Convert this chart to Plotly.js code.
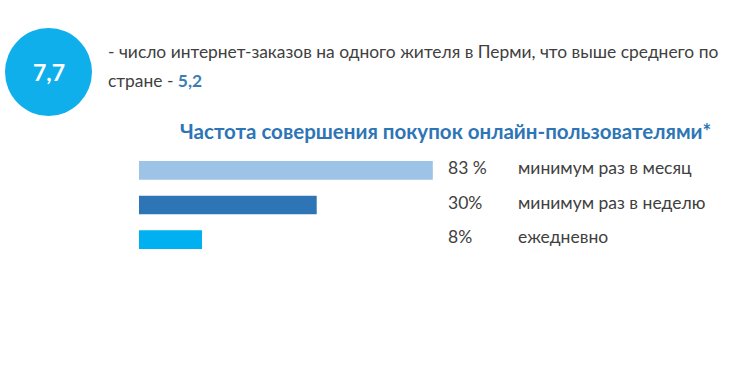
<!DOCTYPE html>
<html>
<head>
<meta charset="utf-8">
<script src="https://cdn.plot.ly/plotly-3.0.1.min.js"></script>
<style>
  html, body { margin: 0; padding: 0; background: #ffffff; }
  #chart { width: 750px; height: 375px; }
</style>
</head>
<body>
<div id="chart"></div>
<script>
// ---- data ----
var categories = ["минимум раз в месяц", "минимум раз в неделю", "ежедневно"];
var shareLabels = ["83 %", "30%", "8%"];
// bar lengths as drawn in the picture (not proportional to labels), on a 0-100 scale
var barLengths = [83, 50.2, 17.8];
var barColors = ["#9dc3e6", "#2e75b6", "#00b0f0"];
var bigValue = "7,7";
var countryValue = "5,2";
var introText = "- число интернет-заказов на одного жителя в Перми, что выше среднего по";
var introText2 = "стране - ";
var chartTitle = "Частота совершения покупок онлайн-пользователями*";

// ---- layout helpers (pixel -> paper) ----
var W = 750, H = 375;
var L = 139, PW = 354, T = 153, PH = 104;
function px(x) { return (x - L) / PW; }
function py(y) { return (T + PH - y) / PH; }

var FONT = "Lato, 'Open Sans', sans-serif";
var textColor = "#404040";

var trace = {
  type: "bar",
  orientation: "h",
  x: barLengths,
  y: categories,
  marker: { color: barColors },
  hoverinfo: "skip"
};

var annotations = [];
categories.forEach(function (c, i) {
  annotations.push({
    xref: "paper", yref: "y", x: px(446), y: c, yshift: 3,
    xanchor: "left", yanchor: "middle", showarrow: false,
    text: shareLabels[i], font: { family: FONT, size: 17.5, color: textColor }
  });
  annotations.push({
    xref: "paper", yref: "y", x: px(516), y: c, yshift: 3,
    xanchor: "left", yanchor: "middle", showarrow: false,
    text: c, font: { family: FONT, size: 17.5, color: textColor }
  });
});

annotations.push({
  xref: "paper", yref: "paper", x: px(48.5), y: py(72),
  xanchor: "center", yanchor: "middle", showarrow: false,
  text: "<b>" + bigValue + "</b>", font: { family: FONT, size: 23, color: "#ffffff" }
});
annotations.push({
  xref: "paper", yref: "paper", x: px(106), y: py(52),
  xanchor: "left", yanchor: "middle", showarrow: false,
  text: introText, font: { family: FONT, size: 17.4, color: textColor }
});
annotations.push({
  xref: "paper", yref: "paper", x: px(106), y: py(80),
  xanchor: "left", yanchor: "middle", showarrow: false,
  text: introText2 + "<span style='color:#3b7db5'><b>" + countryValue + "</b></span>",
  font: { family: FONT, size: 17.4, color: textColor }
});
annotations.push({
  xref: "paper", yref: "paper", x: px(445), y: py(131),
  xanchor: "center", yanchor: "middle", showarrow: false,
  text: "<b>" + chartTitle + "</b>", font: { family: FONT, size: 20.5, color: "#2e75b6" }
});

var layout = {
  width: W, height: H,
  margin: { l: L, r: W - L - PW, t: T, b: H - T - PH, pad: 0 },
  paper_bgcolor: "#ffffff",
  plot_bgcolor: "#ffffff",
  showlegend: false,
  bargap: 0.46,
  xaxis: { range: [0, 100], visible: false, fixedrange: true },
  yaxis: { autorange: "reversed", visible: false, fixedrange: true },
  shapes: [{
    type: "circle", xref: "paper", yref: "paper",
    x0: px(5), x1: px(92), y0: py(116), y1: py(28),
    fillcolor: "#0fafec", line: { width: 0 }, layer: "below"
  }],
  annotations: annotations
};

Plotly.newPlot("chart", [trace], layout, { displayModeBar: false, staticPlot: true });
</script>
</body>
</html>
